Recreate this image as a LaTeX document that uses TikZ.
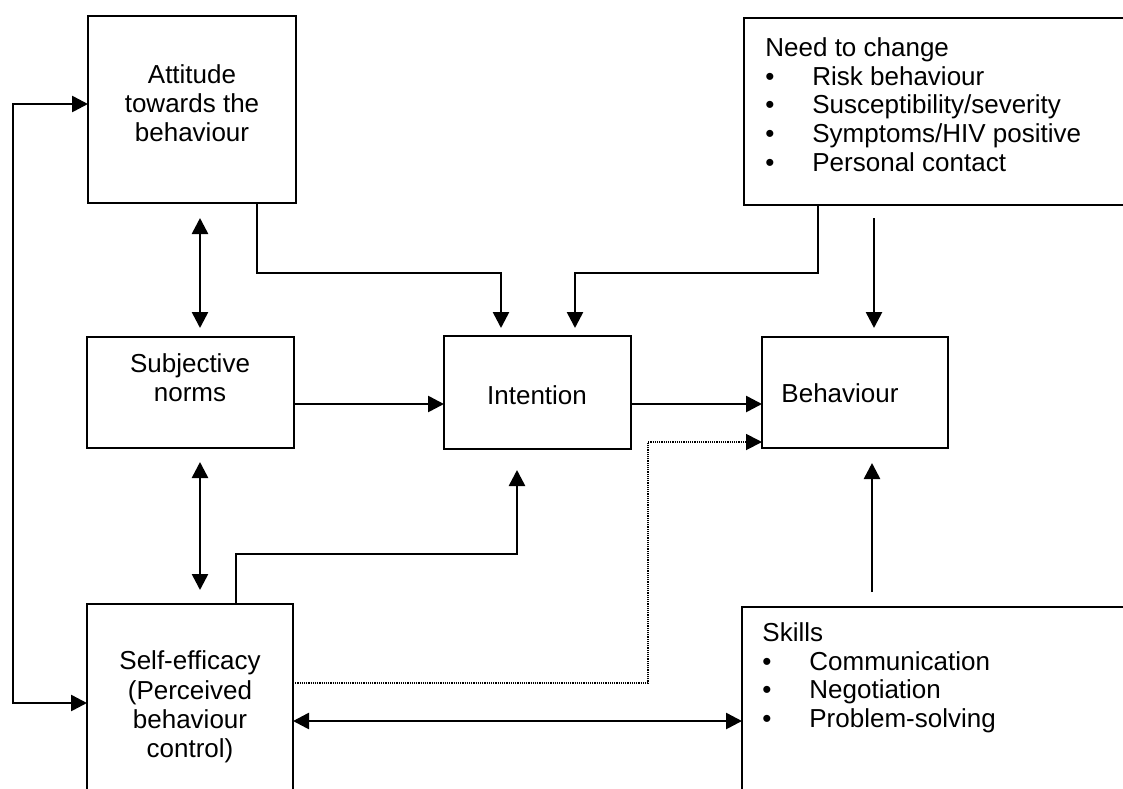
\documentclass[tikz,border=0pt]{standalone}
\usepackage{fontspec}
\setmainfont{Liberation Sans}
\usetikzlibrary{arrows.meta}
\newcommand{\itemdot}{\makebox[23.5pt][l]{\textbullet}}
\begin{document}
\begin{tikzpicture}[x=0.5pt,y=-0.5pt,
  tip/.tip={Triangle[length=8pt,width=8pt]},
  box/.style={draw, line width=1.3pt, rectangle, inner sep=0pt, outer sep=0pt},
  lbl/.style={inner sep=0pt, font=\fontsize{13pt}{14.6pt}\selectfont, align=center},
  lst/.style={inner sep=0pt, font=\fontsize{13pt}{14.4pt}\selectfont, align=left, anchor=north west},
  link/.style={line width=1.3pt, -tip},
  both/.style={line width=1.3pt, tip-tip},
  dots/.style={line width=0.9pt, dash pattern=on 0.6pt off 0.5pt, -tip}
]
\useasboundingbox (0,0) rectangle (1123,788);
\clip (0,0) rectangle (1123,788);

% boxes
\node[box, minimum width=104pt, minimum height=93.5pt] (att) at (192,109.5) {};
\node[box, minimum width=198pt, minimum height=93.5pt] (need) at (942,111.5) {};
\node[box, minimum width=103.5pt, minimum height=55.5pt] (subj) at (190.5,392.5) {};
\node[box, minimum width=93.5pt, minimum height=56.5pt] (int) at (537.5,392.5) {};
\node[box, minimum width=93pt, minimum height=55.5pt] (beh) at (855,392.5) {};
\node[box, minimum width=103pt, minimum height=108pt] (self) at (190,712) {};
\node[box, minimum width=199pt, minimum height=106.5pt] (skills) at (941,713.5) {};

% texts
\node[lbl] (attT) at (192,103) {Attitude\\towards the\\behaviour};
\node[lbl] (subjT) at (190,378) {Subjective\\norms};
\node[lbl] (intT) at (537,395) {Intention};
\node[lbl] (behT) at (840,393) {Behaviour};
\node[lbl] (selfT) at (190,707) {Self-efficacy\\(Perceived\\behaviour\\control)};
\node[lst] (needT) at (765,37) {Need to change\\\itemdot Risk behaviour\\\itemdot Susceptibility/severity\\\itemdot Symptoms/HIV positive\\\itemdot Personal contact};
\node[lst] (skillT) at (762,622) {Skills\\\itemdot Communication\\\itemdot Negotiation\\\itemdot Problem-solving};

% routing columns and rows
\coordinate (xa) at (257,0);
\coordinate (xb) at (501,0);
\coordinate (xc) at (575,0);
\coordinate (xd) at (818,0);
\coordinate (xe) at (874,0);
\coordinate (xf) at (200,0);
\coordinate (xg) at (236,0);
\coordinate (xh) at (517,0);
\coordinate (xi) at (648,0);
\coordinate (xl) at (13,0);
\coordinate (xk) at (872,0);
\coordinate (ra) at (0,273);
\coordinate (rb) at (0,554);
\coordinate (rm) at (0,404);
\coordinate (rc) at (0,442);
\coordinate (rd) at (0,683);
\coordinate (rt) at (0,104);
\coordinate (rs) at (0,703);
\coordinate (rk) at (0,721);

% connectors
\draw[link, shorten >=4pt] (att.south -| xa) -- (xa |- ra) -| (int.north -| xb);
\draw[link, shorten >=4pt] (need.south -| xd) -- (xd |- ra) -| (int.north -| xc);
\draw[link, shorten <=6.5pt, shorten >=4.5pt] (need.south -| xe) -- (beh.north -| xe);
\draw[both, shorten <=7.5pt, shorten >=4.5pt] (att.south -| xf) -- (subj.north -| xf);
\draw[link] (subj.east |- rm) -- (int.west |- rm);
\draw[link] (int.east |- rm) -- (beh.west |- rm);
\draw[both, shorten <=7pt, shorten >=7pt] (subj.south -| xf) -- (self.north -| xf);
\draw[link, shorten >=10.5pt] (self.north -| xg) -- (xg |- rb) -| (int.south -| xh);
\draw[dots] (self.east |- rd) -| (xi |- rc) -- (beh.west |- rc);
\draw[both] (att.west |- rt) -| (xl |- rs) -- (self.west |- rs);
\draw[both] (self.east |- rk) -- (skills.west |- rk);
\draw[link, shorten <=7.5pt, shorten >=7.5pt] (skills.north -| xk) -- (beh.south -| xk);
\end{tikzpicture}
\end{document}
